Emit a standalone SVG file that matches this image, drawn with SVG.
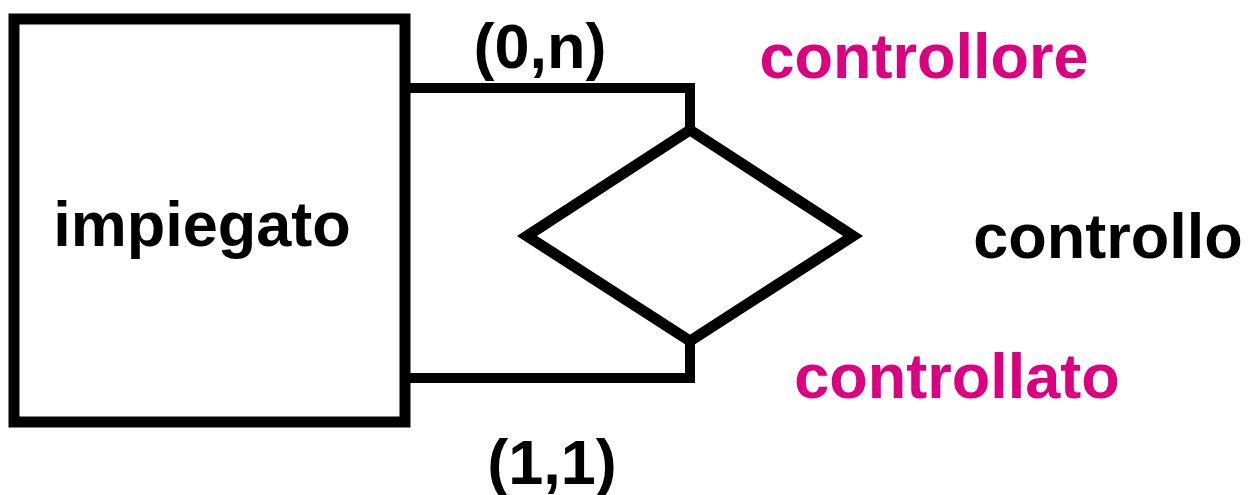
<svg xmlns="http://www.w3.org/2000/svg" width="1252" height="495" viewBox="0 0 1252 495">
<style>
.shape{fill:none;stroke:#000;stroke-width:11}
.conn{fill:none;stroke:#000;stroke-width:10}
text{font-family:"Liberation Sans",Arial,sans-serif;font-weight:bold;font-size:63px}
.role{fill:#da0080}
.lbl{fill:#000}
</style>
<rect width="1252" height="495" fill="#fff"/>
<g id="connectors">
<polyline class="conn" points="405,88 690,88 690,130"/>
<polyline class="conn" points="405,378 690,378 690,341"/>
<text class="lbl" x="540" y="68" text-anchor="middle">(0,n)</text>
<text class="lbl" x="552" y="484" text-anchor="middle">(1,1)</text>
</g>
<g id="impiegato">
<rect class="shape" x="14" y="19" width="391" height="403"/>
<text class="lbl" x="202" y="246" text-anchor="middle">impiegato</text>
</g>
<g id="controllo">
<polygon class="shape" points="690,130 853,236 690,341 527,236"/>
<text class="lbl" x="1108" y="258" text-anchor="middle">controllo</text>
</g>
<g id="roles">
<text class="role" x="924" y="78" text-anchor="middle">controllore</text>
<text class="role" x="957" y="398" text-anchor="middle">controllato</text>
</g>
</svg>
